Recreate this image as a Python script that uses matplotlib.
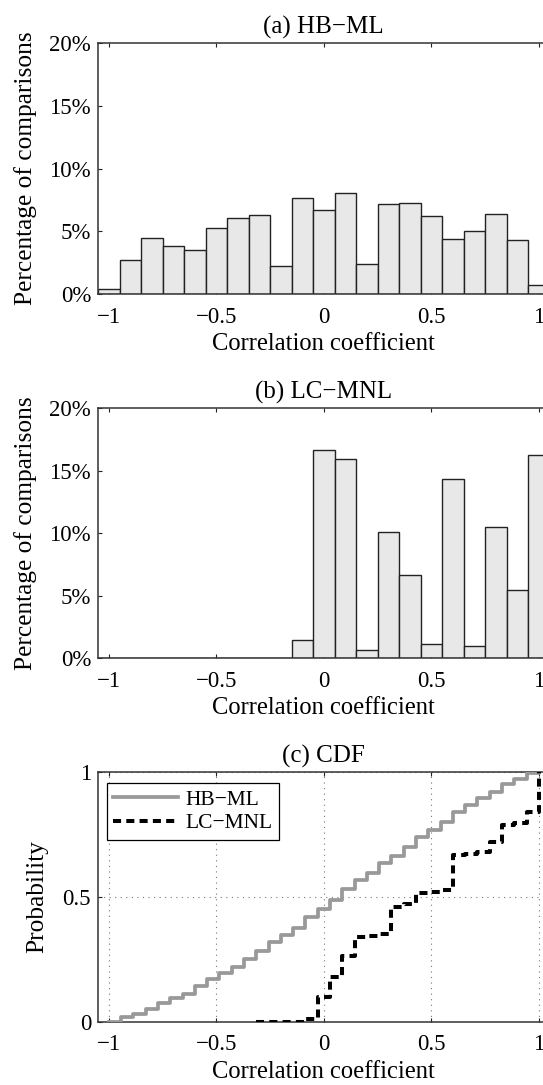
import matplotlib
matplotlib.use("Agg")
import matplotlib.pyplot as plt

plt.rcParams['font.family'] = ['Liberation Serif', 'DejaVu Serif']
plt.rcParams['font.size'] = 16.5

# histogram bins (centres) and percentages
bin_centers = [-1.0, -0.9, -0.8, -0.7, -0.6, -0.5, -0.4, -0.3, -0.2, -0.1, 0.0,
               0.1, 0.2, 0.3, 0.4, 0.5, 0.6, 0.7, 0.8, 0.9, 1.0]
hbml_pct = [0.37, 2.73, 4.49, 3.85, 3.48, 5.29, 6.04, 6.26, 2.25, 7.67, 6.71,
            8.07, 2.43, 7.19, 7.27, 6.20, 4.36, 5.00, 6.39, 4.33, 0.70]
lcmnl_pct = [0, 0, 0, 0, 0, 0, 0, 0, 0, 1.47, 16.66,
             15.91, 0.67, 10.11, 6.68, 1.15, 14.33, 0.94, 10.51, 5.48, 16.26]

# empirical CDF sampled on a grid from -1 to 1
cdf_x = [-1.0, -0.943, -0.886, -0.829, -0.771, -0.714, -0.657, -0.6, -0.543,
         -0.486, -0.429, -0.371, -0.314, -0.257, -0.2, -0.143, -0.086, -0.029,
         0.029, 0.086, 0.143, 0.2, 0.257, 0.314, 0.371, 0.429, 0.486, 0.543,
         0.6, 0.657, 0.714, 0.771, 0.829, 0.886, 0.943, 1.0]
hbml_cdf = [0.0, 0.019, 0.032, 0.052, 0.075, 0.095, 0.112, 0.144, 0.171, 0.195,
            0.221, 0.253, 0.283, 0.321, 0.348, 0.375, 0.421, 0.452, 0.488, 0.532,
            0.568, 0.595, 0.635, 0.665, 0.701, 0.738, 0.768, 0.80, 0.838, 0.868,
            0.895, 0.921, 0.952, 0.972, 0.995, 1.0]
lcmnl_cdf_x = cdf_x[12:]
lcmnl_cdf = [0.0, 0.0, 0.0, 0.0, 0.012, 0.10, 0.18, 0.265, 0.34, 0.345, 0.35,
             0.46, 0.47, 0.515, 0.52, 0.527, 0.668, 0.673, 0.68, 0.72, 0.786,
             0.795, 0.84, 1.0]

xticks = [-1, -0.5, 0, 0.5, 1]
xticklabels = ['\u22121', '\u22120.5', '0', '0.5', '1']
pct_ticks = [0, 5, 10, 15, 20]
pct_labels = ['0%', '5%', '10%', '15%', '20%']

fig = plt.figure(figsize=(5.43, 10.85), dpi=100)
W = 0.8315
ax1 = fig.add_axes([0.1805, 0.729, W, 0.2313])
ax2 = fig.add_axes([0.1805, 0.3935, W, 0.2304])
ax3 = fig.add_axes([0.1805, 0.0581, W, 0.2304])


def style(ax):
    ax.set_xlim(-1.05, 1.05)
    ax.set_xticks(xticks)
    ax.set_xticklabels(xticklabels)
    ax.tick_params(direction='in', length=3, width=0.8, top=True, right=True,
                   color='#222222')
    ax.tick_params(axis='x', pad=9)
    ax.tick_params(axis='y', pad=5)
    for s in ax.spines.values():
        s.set_linewidth(1.1)
        s.set_color('#333333')
    ax.set_xlabel('Correlation coefficient', fontsize=17.7, labelpad=4)


for ax, vals, title in [(ax1, hbml_pct, '(a) HB\u2212ML'),
                        (ax2, lcmnl_pct, '(b) LC\u2212MNL')]:
    ax.bar(bin_centers, vals, width=0.1, color='#e8e8e8', edgecolor='#222222',
           linewidth=1.0, zorder=2)
    style(ax)
    ax.set_ylim(0, 20)
    ax.set_yticks(pct_ticks)
    ax.set_yticklabels(pct_labels)
    ax.set_ylabel('Percentage of comparisons', fontsize=18.3, labelpad=9)
    ax.set_title(title, fontsize=18, pad=7)

ax3.step(cdf_x, hbml_cdf, where='post', color='#999999', lw=2.7,
         label='HB\u2212ML', zorder=3)
ax3.step(lcmnl_cdf_x, lcmnl_cdf, where='post', color='black', lw=2.9,
         dashes=(2, 1.3), label='LC\u2212MNL', zorder=4)
style(ax3)
ax3.set_ylim(0, 1)
ax3.set_yticks([0, 0.5, 1])
ax3.set_yticklabels(['0', '0.5', '1'])
ax3.grid(True, linestyle=(0, (1, 4)), color='#777777', lw=0.8, zorder=0)
ax3.set_ylabel('Probability', fontsize=18.3, labelpad=10)
ax3.set_title('(c) CDF', fontsize=18, pad=7)
leg = ax3.legend(loc='upper left', bbox_to_anchor=(0.02, 0.955),
                 fontsize=15.5, handlelength=3.0, handletextpad=0.35,
                 borderpad=0.3, labelspacing=0.15, fancybox=False,
                 framealpha=1, borderaxespad=0)
leg.get_frame().set_edgecolor('black')
leg.get_frame().set_linewidth(0.9)

fig.savefig('out.png', dpi=100)
